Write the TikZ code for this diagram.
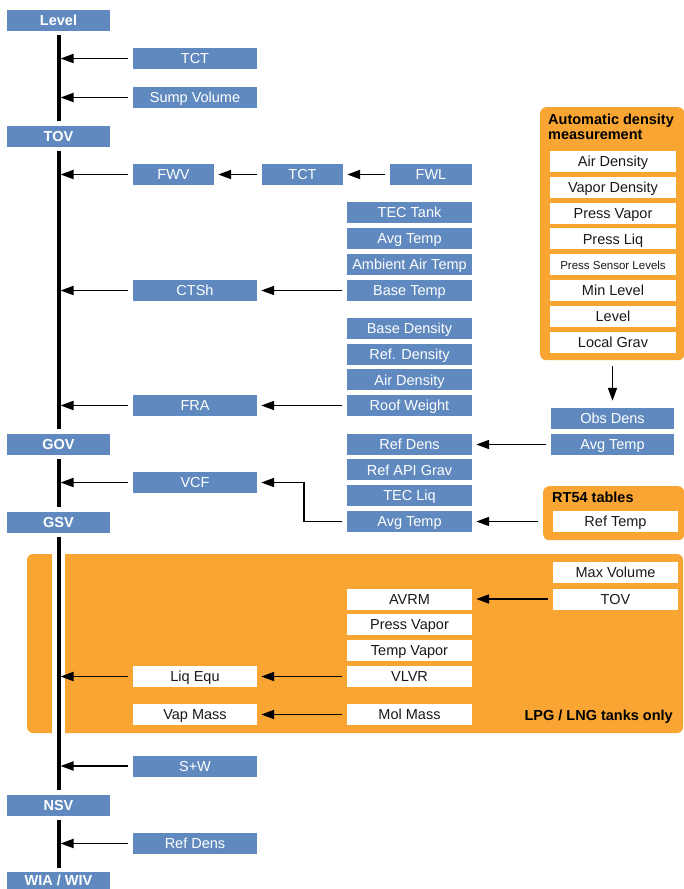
\documentclass[tikz,border=0pt]{standalone}
\usepackage{fontspec}
\setmainfont{Liberation Sans}
\usetikzlibrary{arrows.meta}
\definecolor{boxblue}{RGB}{96,137,191}
\definecolor{boxorange}{RGB}{248,165,52}
\definecolor{textdark}{RGB}{25,25,25}
\newcommand\fsz{\fontsize{14.5}{15}\selectfont}
\newcommand\fss{\fontsize{11.5}{13}\selectfont}
\begin{document}
\begin{tikzpicture}[x=1pt,y=-1pt,
  box/.style={rectangle, inner sep=0pt, minimum height=21pt, text height=12pt, text depth=1.6pt, font=\fsz},
  bb/.style={box, fill=boxblue, text=white, minimum width=124pt},
  kb/.style={box, fill=boxblue, text=white, font=\fsz\bfseries, minimum width=103pt},
  wb/.style={box, fill=white, text=textdark, minimum width=125pt},
  spine/.style={line width=4pt, shorten <=4pt, shorten >=4pt},
  arr/.style={line width=1.8pt, -{Triangle[length=13pt,width=9pt]}, shorten <=4.5pt, shorten >=4pt},
  tospine/.style={arr, shorten >=2pt},
  grp/.style={fill=boxorange, rounded corners=6pt, inner sep=0pt},
  ttl/.style={font=\fsz\bfseries, inner sep=0pt, align=left, text=black}]

\useasboundingbox (0,0) rectangle (684,889);

% orange groups
\node[grp, anchor=north west, minimum width=144pt, minimum height=253pt] (auto) at (540,107) {};
\node[grp, anchor=north west, minimum width=141pt, minimum height=54pt] (rt54) at (543,486) {};
\fill[boxorange, rounded corners=6pt] (27,554) rectangle (683,733);
\fill[white] (52,550) rectangle (65,737);

% main column
\node[kb] (lev) at (58.5,20) {Level};
\node[kb] (tov) at (58.5,136) {TOV};
\node[kb] (gov) at (58.5,444) {GOV};
\node[kb] (gsv) at (58.5,522) {GSV};
\node[kb] (nsv) at (58.5,805) {NSV};
\node[kb, text height=10pt, text depth=3.4pt] (wia) at (58.5,882.5) {WIA / WIV};

\draw[spine] (lev) -- (tov);
\draw[spine] (tov) -- (gov);
\draw[spine] (gov) -- (gsv);
\draw[spine] (gsv) -- (nsv);
\draw[spine] (nsv) -- (wia);

% middle column
\node[bb] (tct1) at (195,58.5) {TCT};
\node[bb] (sump) at (195,97.5) {Sump Volume};
\node[bb, minimum width=81pt] (fwv) at (173.5,174.5) {FWV};
\node[bb, minimum width=81pt] (tct2) at (302.5,174.5) {TCT};
\node[bb, minimum width=82pt] (fwl) at (431,174.5) {FWL};
\node[bb] (ctsh) at (195,290.5) {CTSh};
\node[bb] (fra) at (195,405.5) {FRA};
\node[bb] (vcf) at (195,482.5) {VCF};
\node[wb, minimum width=124pt] (liq) at (195,676.5) {Liq Equ};
\node[wb, minimum width=124pt] (vap) at (195,714.5) {Vap Mass};
\node[bb] (sw) at (195,766) {S+W};
\node[bb] (rdens3) at (195,843.5) {Ref Dens};

% right column
\node[bb, minimum width=125pt] (tect) at (409.5,212.5) {TEC Tank};
\node[bb, minimum width=125pt] (avgt1) at (409.5,238.5) {Avg Temp};
\node[bb, minimum width=125pt] (amb) at (409.5,264.5) {Ambient Air Temp};
\node[bb, minimum width=125pt] (baset) at (409.5,290.5) {Base Temp};
\node[bb, minimum width=125pt] (based) at (409.5,328.5) {Base Density};
\node[bb, minimum width=125pt] (refd) at (409.5,354.2) {Ref. Density};
\node[bb, minimum width=125pt] (aird) at (409.5,379.8) {Air Density};
\node[bb, minimum width=125pt] (roof) at (409.5,405.5) {Roof Weight};
\node[bb, minimum width=125pt] (rdens2) at (409.5,444) {Ref Dens};
\node[bb, minimum width=125pt] (api) at (409.5,469.8) {Ref API Grav};
\node[bb, minimum width=125pt] (tecl) at (409.5,495.6) {TEC Liq};
\node[bb, minimum width=125pt] (avgt2) at (409.5,521.5) {Avg Temp};
\node[wb] (avrm) at (409.5,599) {AVRM};
\node[wb] (pvap) at (409.5,624.5) {Press Vapor};
\node[wb] (tvap) at (409.5,650.5) {Temp Vapor};
\node[wb] (vlvr) at (409.5,676.5) {VLVR};
\node[wb] (mol) at (409.5,714.5) {Mol Mass};

% far right
\node[ttl, anchor=north west] (autot) at (548,114) {Automatic density\\measurement};
\node[wb, minimum width=126pt] (ad1) at (613,161.5) {Air Density};
\node[wb, minimum width=126pt] (ad2) at (613,187.3) {Vapor Density};
\node[wb, minimum width=126pt] (ad3) at (613,213.1) {Press Vapor};
\node[wb, minimum width=126pt] (ad4) at (613,238.9) {Press Liq};
\node[wb, minimum width=126pt, font=\fss, text height=10pt, text depth=1.2pt] (ad5) at (613,264.7) {Press Sensor Levels};
\node[wb, minimum width=126pt] (ad6) at (613,290.5) {Min Level};
\node[wb, minimum width=126pt] (ad7) at (613,316.3) {Level};
\node[wb, minimum width=126pt] (ad8) at (613,342) {Local Grav};
\node[bb, minimum width=123pt] (obs) at (612.5,418.5) {Obs Dens};
\node[bb, minimum width=123pt] (avgt3) at (612.5,444.5) {Avg Temp};
\node[ttl, anchor=base west] (rt54t) at (552,502) {RT54 tables};
\node[wb] (reft) at (615.5,521.5) {Ref Temp};
\node[wb] (maxv) at (615.5,572.5) {Max Volume};
\node[wb] (tov2) at (615.5,599) {TOV};
\node[ttl, anchor=base east] (lpg) at (673,720) {LPG / LNG tanks only};

% connectors to the spine
\draw[tospine] (tct1.west) -- (tct1.west -| lev.center);
\draw[tospine] (sump.west) -- (sump.west -| lev.center);
\draw[tospine] (fwv.west) -- (fwv.west -| lev.center);
\draw[tospine] (ctsh.west) -- (ctsh.west -| lev.center);
\draw[tospine] (fra.west) -- (fra.west -| lev.center);
\draw[tospine] (vcf.west) -- (vcf.west -| lev.center);
\draw[tospine] (liq.west) -- (liq.west -| lev.center);
\draw[tospine] (sw.west) -- (sw.west -| lev.center);
\draw[tospine] (rdens3.west) -- (rdens3.west -| lev.center);

% other connectors
\draw[arr] (tct2) -- (fwv);
\draw[arr] (fwl) -- (tct2);
\draw[arr] (baset) -- (ctsh);
\draw[arr] (roof) -- (fra);
\coordinate (bend) at (304,521.5);
\draw[arr] (avgt2.west) -- (bend) |- (vcf.east);
\draw[arr] (avgt3.west) -- (avgt3.west -| rdens2.east);
\draw[arr, shorten <=5pt] (rt54.west |- avgt2) -- (avgt2.east);
\draw[arr, shorten <=6pt, shorten >=7pt] (auto.south -| obs) -- (obs.north);
\draw[arr] (tov2) -- (avrm);
\draw[arr] (vlvr) -- (liq);
\draw[arr] (mol) -- (vap);
\end{tikzpicture}
\end{document}
